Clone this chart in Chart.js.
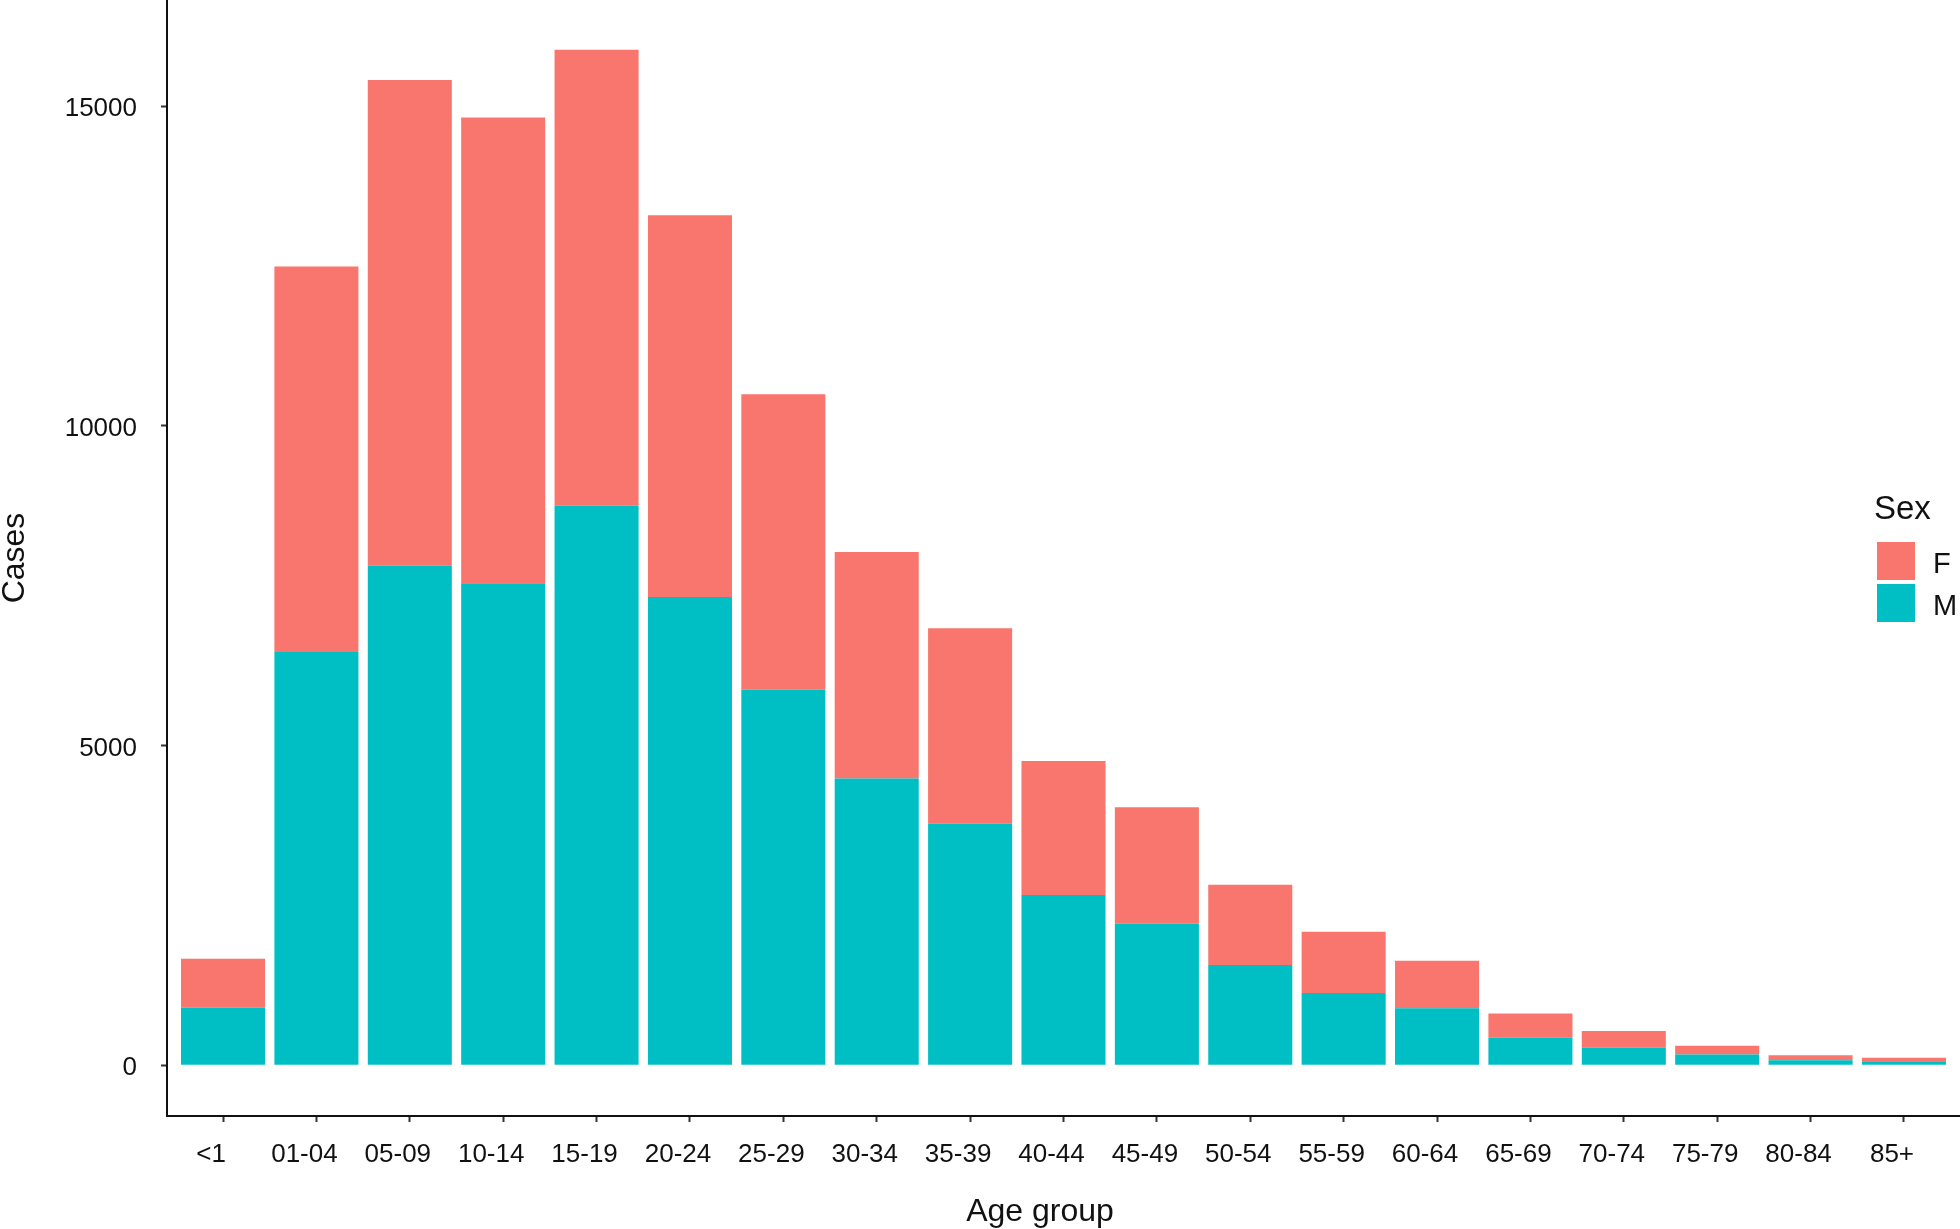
<!DOCTYPE html>
<html>
<head>
<meta charset="utf-8">
<script src="https://cdn.jsdelivr.net/npm/chart.js@4/dist/chart.umd.min.js"></script>
<style>
  html, body { margin: 0; padding: 0; background: #ffffff; }
  #wrap { position: relative; width: 1960px; height: 1229px; overflow: hidden; font-family: "Liberation Sans", Arial, sans-serif; color: #111; }
  #chart { position: absolute; left: 0; top: 0; }
  .txt { position: absolute; white-space: nowrap; line-height: 1; }
  .key { position: absolute; width: 38px; height: 38px; }
</style>
</head>
<body>
<div id="wrap">
  <canvas id="chart" width="1960" height="1229"></canvas>
  <div class="txt" id="xTitle" style="left:840px; top:1194px; width:400px; text-align:center; font-size:32px;">Age group</div>
  <div class="txt" id="legTitle" style="left:1874px; top:491px; font-size:33px;">Sex</div>
  <div class="key" id="keyF" style="left:1877px; top:542px;"></div>
  <div class="txt" id="labF" style="left:1933px; top:549px; font-size:29px;">F</div>
  <div class="key" id="keyM" style="left:1877px; top:584px;"></div>
  <div class="txt" id="labM" style="left:1933px; top:591px; font-size:29px;">M</div>
</div>
<script>
const categories = ['<1','01-04','05-09','10-14','15-19','20-24','25-29','30-34','35-39','40-44','45-49','50-54','55-59','60-64','65-69','70-74','75-79','80-84','85+'];
const maleCases   = [900, 6462, 7813, 7539, 8753, 7323, 5874, 4484, 3779, 2663, 2213, 1566, 1130, 890, 433, 277, 167, 78, 63];
const femaleCases = [764, 6031, 7597, 7284, 7127, 5972, 4621, 3544, 3055, 2095, 1821, 1254, 955, 745, 376, 256, 136, 79, 52];
const yTicks = [0, 5000, 10000, 15000];
const seriesNames = ['F', 'M'];
const seriesColors = ['#F8766D', '#00BFC4'];

document.getElementById('keyF').style.background = seriesColors[0];
document.getElementById('keyM').style.background = seriesColors[1];
document.getElementById('labF').textContent = seriesNames[0];
document.getElementById('labM').textContent = seriesNames[1];

const FONT = '"Liberation Sans", Arial, sans-serif';
const toPoints = arr => arr.map((v, i) => ({ x: i, y: v }));

function zeroPad(s) { s.paddingLeft = 0; s.paddingRight = 0; s.paddingTop = 0; s.paddingBottom = 0; }

new Chart(document.getElementById('chart'), {
  type: 'bar',
  data: {
    datasets: [
      { label: seriesNames[1], data: toPoints(maleCases), backgroundColor: seriesColors[1], borderWidth: 0, categoryPercentage: 1, barPercentage: 0.9 },
      { label: seriesNames[0], data: toPoints(femaleCases), backgroundColor: seriesColors[0], borderWidth: 0, categoryPercentage: 1, barPercentage: 0.9 }
    ]
  },
  options: {
    responsive: false,
    animation: false,
    devicePixelRatio: 1,
    layout: { padding: 0 },
    plugins: { legend: { display: false }, tooltip: { enabled: false } },
    scales: {
      x: {
        type: 'linear',
        stacked: true,
        min: -0.6,
        max: 18.6,
        offset: false,
        afterBuildTicks: axis => { axis.ticks = categories.map((_, i) => ({ value: i })); },
        afterFit: s => { s.height = 1229 - 1116; zeroPad(s); },
        grid: { offset: false, drawOnChartArea: false, drawTicks: true, tickLength: 6, tickWidth: 2, tickColor: '#333333' },
        border: { display: true, color: '#111111', width: 2 },
        ticks: {
          autoSkip: false, maxRotation: 0, minRotation: 0,
          padding: 17, labelOffset: -12,
          color: '#111111',
          font: { family: FONT, size: 26 },
          callback: v => categories[v]
        },
        title: { display: false }
      },
      y: {
        stacked: true,
        min: -795,
        max: 16660,
        afterBuildTicks: axis => { axis.ticks = yTicks.map(v => ({ value: v })); },
        afterFit: s => { s.width = 167; zeroPad(s); },
        grid: { drawOnChartArea: false, drawTicks: true, tickLength: 6, tickWidth: 2, tickColor: '#333333' },
        border: { display: true, color: '#111111', width: 2 },
        ticks: {
          padding: 24,
          labelOffset: 3,
          color: '#111111',
          font: { family: FONT, size: 26 },
          callback: v => String(v)
        },
        title: {
          display: true, text: 'Cases', color: '#111111',
          font: { family: FONT, size: 32, lineHeight: 0.85 },
          padding: { top: 2, bottom: 0 }
        }
      }
    }
  }
});
</script>
</body>
</html>
